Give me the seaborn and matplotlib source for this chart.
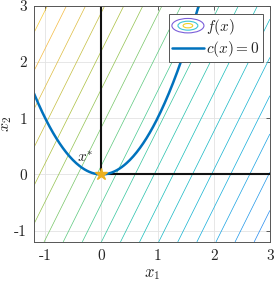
import numpy as np
import seaborn as sns
import matplotlib
matplotlib.use("Agg")
import matplotlib.pyplot as plt
from matplotlib.colors import LinearSegmentedColormap
from matplotlib.legend_handler import HandlerBase
from matplotlib.patches import Ellipse
from matplotlib.lines import Line2D

# objective f(x) = a1*x1 + a2*x2 (linear), contour levels
f_coef = [-2.0, 1.0]
f_levels = [-6.64, -5.96, -5.28, -4.60, -3.92, -3.24, -2.56, -1.88, -1.20,
            -0.52, 0.16, 0.84, 1.52, 2.20, 2.88, 3.56, 4.24, 4.92]
# constraint c(x) = x2 - x1^2
c_x1 = np.linspace(-1.2, np.sqrt(3.0), 200)
c_x2 = c_x1 ** 2
# cone lines from x*
cone_x1 = [0, 0, np.nan, 0, 3]
cone_x2 = [0, 3, np.nan, 0, 0]
x_star = (0.0, 0.0)
ticks = [-1, 0, 1, 2, 3]
tick_labels = ['-1', '0', '1', '2', '3']
lims = (-1.2, 3.0)

parula = LinearSegmentedColormap.from_list('parula', [
    (0.2422, 0.1504, 0.6603), (0.27, 0.35, 0.98), (0.15, 0.52, 0.95),
    (0.07, 0.67, 0.86), (0.07, 0.74, 0.72), (0.30, 0.79, 0.53),
    (0.65, 0.75, 0.24), (0.97, 0.73, 0.25), (0.98, 0.98, 0.05)])

sns.set_theme(style='white')
plt.rcParams['font.family'] = ['cmr10', 'DejaVu Serif']
plt.rcParams['mathtext.fontset'] = 'cm'
plt.rcParams['axes.unicode_minus'] = False


class ContourProxy:
    pass


class ContourHandler(HandlerBase):
    def create_artists(self, legend, orig_handle, xdescent, ydescent,
                       width, height, fontsize, trans):
        cx = width / 2 - xdescent
        cy = height / 2 - ydescent
        arts = []
        for frac, col in zip([1.0, 0.62, 0.3], ['#7b5fd9', '#3cc6d6', '#f0d22a']):
            arts.append(Ellipse((cx, cy), width * frac, height * 1.35 * frac,
                                fill=False, ec=col, lw=0.8, transform=trans))
        return arts


fig, ax = plt.subplots(figsize=(2.74, 2.85), dpi=100)
fig.subplots_adjust(left=0.124, right=0.985, bottom=0.151, top=0.98)

g = np.linspace(lims[0], lims[1], 200)
X1, X2 = np.meshgrid(g, g)
F = f_coef[0] * X1 + f_coef[1] * X2
ax.contour(X1, X2, F, levels=f_levels, cmap=parula, vmin=-11.5, vmax=6.6,
           linewidths=0.5)

ax.plot(cone_x1, cone_x2, color='#111111', lw=1.5)
sns.lineplot(x=c_x1, y=c_x2, ax=ax, color='#0072BD', lw=1.8, sort=False)
ax.plot(*x_star, marker='*', color='#EDB120', markersize=9, ls='none', zorder=5)
ax.text(-0.28, 0.3, r'$x^{*}$', fontsize=11, ha='center', va='center')

ax.set_xlim(lims)
ax.set_ylim(lims)
ax.set_xticks(ticks, tick_labels)
ax.set_yticks(ticks, tick_labels)
ax.grid(True, color='#e3e3e3', lw=0.6)
ax.set_axisbelow(True)
ax.tick_params(direction='in', length=3, width=0.6, top=True, right=True,
               color='#444444', labelsize=11, pad=5, labelcolor='#262626')
for s in ax.spines.values():
    s.set_color('#555555')
    s.set_linewidth(0.7)
ax.set_xlabel(r'$x_1$', fontsize=12, labelpad=3)
ax.set_ylabel(r'$x_2$', fontsize=11.5)
ax.yaxis.set_label_coords(-0.085, 0.5)

h_c = Line2D([], [], color='#0072BD', lw=1.8)
leg = ax.legend([ContourProxy(), h_c], [r'$f(x)$', r'$c(x)=0$'],
                handler_map={ContourProxy: ContourHandler()},
                loc='upper right', bbox_to_anchor=(0.97, 0.965), borderaxespad=0,
                fontsize=11, handlelength=2.1, handletextpad=0.15,
                borderpad=0.2, labelspacing=0.15, fancybox=False, framealpha=1)
leg.get_frame().set_edgecolor('#555555')
leg.get_frame().set_linewidth(0.7)

fig.savefig('out.png', dpi=100)
